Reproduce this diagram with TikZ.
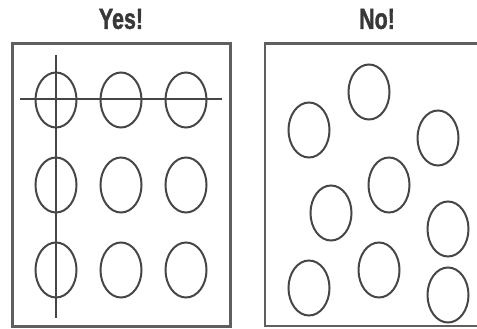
\documentclass[tikz,border=0pt]{standalone}
\usepackage{fontspec}
\setmainfont{Liberation Sans}
\newfontfamily\headfont[FakeBold=1.6]{Liberation Sans Bold}
\usepackage{tikz}
\usetikzlibrary{positioning,shapes.geometric}
\usepackage{xcolor}
\definecolor{ink}{RGB}{70,70,70}
\definecolor{frame}{RGB}{95,95,95}

\begin{document}
\begin{tikzpicture}[
  x=1pt, y=-1pt,
  dot/.style={ellipse, draw=ink, line width=2pt, minimum width=41pt, minimum height=55pt, inner sep=0pt},
  panel/.style={draw=frame, line width=2.6pt},
  guide/.style={draw=ink, line width=1.8pt},
  title/.style={text=ink!80!black, font=\fontsize{29}{30}\headfont, inner sep=0pt}
]
\clip (0,0) rectangle (477,329);
\fill[white] (0,0) rectangle (477,329);
% titles
\node[title] (yes) at (121,19) {\scalebox{0.74}[1]{Yes!}};
\node[title] (no) at (377,19) {\scalebox{0.74}[1]{No!}};
% frames
\draw[panel] (12.5,43.5) rectangle (230.5,326.5);
\draw[panel] (265,43.5) rectangle (480,326);
% aligned dots
\foreach \c/\x in {1/56,2/121,3/186}
  \foreach \r/\y in {1/100,2/185,3/270}
    \node[dot] (g\r\c) at (\x,\y) {};
% scattered dots
\foreach \n/\x/\y in {a/369/92, b/309/130, c/438/138, d/389/185, e/331/213,
                     f/448/229, g/309/288, h/379/270, i/448/295}
  \node[dot] (s\n) at (\x,\y) {};
% alignment lines
\coordinate (hl) at (20,99);
\coordinate (hr) at (222,99);
\coordinate (vt) at (56,55);
\coordinate (vb) at (56,318);
\draw[guide] (hl) -- (hr);
\draw[guide] (vt) -- (vb);
\end{tikzpicture}
\end{document}
